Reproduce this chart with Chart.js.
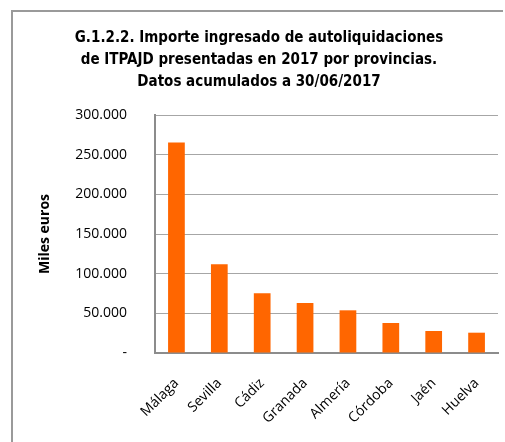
<!DOCTYPE html>
<html>
<head>
<meta charset="utf-8">
<script src="https://cdn.jsdelivr.net/npm/chart.js@4"></script>
<style>
    html, body { margin: 0; padding: 0; background: #ffffff; overflow: hidden; }
    #clip { position: absolute; left: 0; top: 0; width: 505px; height: 442px; overflow: hidden; }
    #frameLeft { position: absolute; left: 11px; top: 10px; width: 2px; height: 432px; background: #9a9a9a; }
    #frameTop { position: absolute; left: 11px; top: 10px; width: 492px; height: 2px; background: #9a9a9a; }
    #wrap { position: absolute; left: 0; top: 0; width: 505px; height: 442px; }
</style>
</head>
<body>
<div id="clip">
    <div id="frameLeft"></div>
    <div id="frameTop"></div>
    <div id="wrap"><canvas id="provChart"></canvas></div>
</div>
<script>
// Provincias y importe ingresado (miles de euros)
var provincias = ['Málaga', 'Sevilla', 'Cádiz', 'Granada', 'Almería', 'Córdoba', 'Jaén', 'Huelva'];
var importes = [265400, 112000, 75300, 63000, 53800, 37800, 27700, 25600];
var yTicks = [0, 50000, 100000, 150000, 200000, 250000, 300000];

function formatMiles(v) {
    if (v === 0) return '-';
    return String(v).replace(/\B(?=(\d{3})+(?!\d))/g, '.');
}

var ctx = document.getElementById('provChart').getContext('2d');
var provChart = new Chart(ctx, {
    type: 'bar',
    data: {
        labels: provincias,
        datasets: [{
            label: 'Miles euros',
            data: importes,
            backgroundColor: '#ff6600',
            borderWidth: 0,
            categoryPercentage: 1,
            barPercentage: 0.39
        }]
    },
    options: {
        responsive: true,
        maintainAspectRatio: false,
        animation: false,
        layout: {
            padding: { left: 20, right: 7, top: 0, bottom: 0 }
        },
        plugins: {
            legend: { display: false },
            tooltip: { enabled: false },
            title: {
                display: true,
                text: ['G.1.2.2. Importe ingresado de autoliquidaciones',
                       'de ITPAJD presentadas en 2017 por provincias.',
                       'Datos acumulados a 30/06/2017'],
                color: '#000000',
                font: { family: '"Liberation Sans Narrow", "DejaVu Sans Condensed", sans-serif', size: 15, weight: 'bold', lineHeight: '22px' },
                padding: { top: 27, bottom: 22 }
            }
        },
        scales: {
            x: {
                grid: { display: false },
                border: { display: true, color: '#8c8c8c', width: 2 },
                ticks: {
                    color: '#000000',
                    font: { family: '"Open Sans", sans-serif', size: 14 },
                    maxRotation: 45,
                    minRotation: 45,
                    padding: 14
                },
                afterFit: function (scale) { scale.height = 89; }
            },
            y: {
                min: 0,
                max: 300000,
                afterBuildTicks: function (scale) {
                    scale.ticks = yTicks.map(function (v) { return { value: v }; });
                },
                grid: { color: '#a6a6a6', lineWidth: 1, drawTicks: false },
                border: { display: true, color: '#8c8c8c', width: 2 },
                ticks: {
                    color: '#000000',
                    font: { family: '"Open Sans", sans-serif', size: 14 },
                    padding: 28,
                    callback: function (v) { return formatMiles(v); }
                },
                title: {
                    display: true,
                    text: 'Miles euros',
                    color: '#000000',
                    font: { family: '"Open Sans", sans-serif', size: 14, weight: 'bold' },
                    padding: { top: 17, bottom: 0 }
                },
                afterFit: function (scale) { scale.width = 135; }
            }
        }
    }
});
</script>
</body>
</html>
